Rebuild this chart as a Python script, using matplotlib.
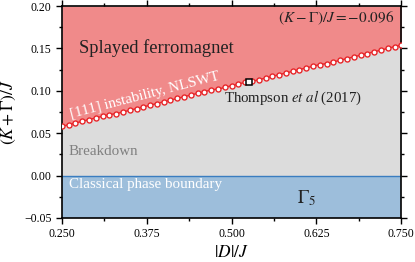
import matplotlib
matplotlib.use('Agg')
import matplotlib.pyplot as plt
import numpy as np

plt.rcParams['font.family'] = ['Liberation Serif', 'DejaVu Serif']
plt.rcParams['mathtext.fontset'] = 'stix'

# |D|/J grid of the NLSWT instability line
D = [0.25, 0.26, 0.27, 0.28, 0.29, 0.30, 0.31, 0.32, 0.33, 0.34,
     0.35, 0.36, 0.37, 0.38, 0.39, 0.40, 0.41, 0.42, 0.43, 0.44,
     0.45, 0.46, 0.47, 0.48, 0.49, 0.50, 0.51, 0.52, 0.53, 0.54,
     0.55, 0.56, 0.57, 0.58, 0.59, 0.60, 0.61, 0.62, 0.63, 0.64,
     0.65, 0.66, 0.67, 0.68, 0.69, 0.70, 0.71, 0.72, 0.73, 0.74,
     0.75]
# (K+Gamma)/J where [111] instability sets in
KG = [0.058, 0.060, 0.062, 0.064, 0.066, 0.068, 0.070, 0.072, 0.073, 0.075,
      0.077, 0.079, 0.081, 0.083, 0.085, 0.087, 0.089, 0.091, 0.093, 0.095,
      0.097, 0.099, 0.101, 0.102, 0.104, 0.106, 0.108, 0.110, 0.111, 0.113,
      0.115, 0.117, 0.119, 0.121, 0.123, 0.125, 0.127, 0.129, 0.131, 0.132,
      0.134, 0.136, 0.138, 0.140, 0.142, 0.144, 0.146, 0.148, 0.150, 0.152,
      0.154]

thompson_D = [0.525]
thompson_KG = [0.110]

ymin, ymax = -0.05, 0.20
x_ticks = [0.250, 0.375, 0.500, 0.625, 0.750]
y_ticks = [-0.05, 0.00, 0.05, 0.10, 0.15, 0.20]

red = '#f08a8a'
grey = '#dcdcdc'
blue = '#9dbedb'

fig = plt.figure(figsize=(4.15, 2.62), dpi=100)
ax = fig.add_axes([0.149, 0.168, 0.818, 0.809])

ax.fill_between(D, KG, ymax, color=red, lw=0)
ax.fill_between(D, 0, KG, color=grey, lw=0)
ax.axhspan(ymin, 0, color=blue, lw=0)
ax.axhline(0, color='#3a7dc0', lw=1.0)

ax.plot(D, KG, '-o', color='#e8262a', lw=1.0, ms=3.6, mfc='white',
        mec='#e8262a', mew=1.0, zorder=3)
ax.plot(thompson_D, thompson_KG, 's', ms=5, mfc='white', mec='black',
        mew=1.1, zorder=4)

ax.text(0.275, 0.150, 'Splayed ferromagnet', fontsize=13.3, color='#222222',
        va='center', ha='left')
ax.text(0.740, 0.186, r'$(K-\Gamma)/J=-0.096$', fontsize=11, color='#222222',
        va='center', ha='right')
ax.text(0.264, 0.068, '[111] instability, NLSWT', fontsize=10.8, color='white',
        rotation=14.5, rotation_mode='anchor', ha='left', va='baseline')
ax.text(0.489, 0.0915, r'Thompson $et\ al$ (2017)', fontsize=10.7,
        color='#222222', va='center', ha='left')
ax.text(0.260, 0.028, 'Breakdown', fontsize=10.8, color='#808080',
        va='center', ha='left')
ax.text(0.260, -0.011, 'Classical phase boundary', fontsize=10.8,
        color='white', va='center', ha='left')
ax.text(0.611, -0.0265, r'$\Gamma_5$', fontsize=13.5, color='#222222',
        va='center', ha='center')

ax.set_xlim(0.25, 0.75)
ax.set_ylim(ymin, ymax)
ax.set_xticks(x_ticks)
ax.set_xticklabels(['%.3f' % v for v in x_ticks])
ax.set_xticks([0.3125, 0.4375, 0.5625, 0.6875], minor=True)
ax.set_yticks(y_ticks)
ax.set_yticklabels([('%.2f' % v).replace('-', '\u2212') for v in y_ticks])
ax.set_yticks([-0.025, 0.025, 0.075, 0.125, 0.175], minor=True)
ax.tick_params(which='both', direction='out', top=True, right=True,
               labelsize=8.5, width=1.0)
ax.tick_params(which='major', length=4)
ax.tick_params(which='minor', length=2.5)
for s in ax.spines.values():
    s.set_linewidth(1.2)

ax.set_xlabel(r'$|D|/J$', fontsize=12.5, labelpad=3)
ax.set_ylabel(r'$(K+\Gamma)/J$', fontsize=12.5, labelpad=4)

fig.savefig('out.png', dpi=100)
